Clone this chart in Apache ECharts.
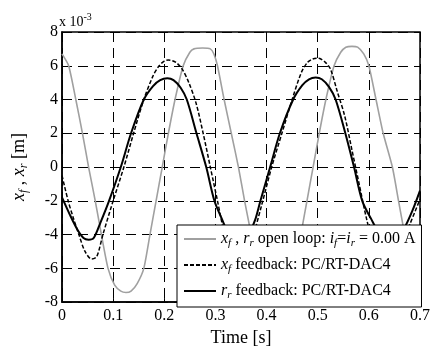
<!DOCTYPE html>
<html>
<head>
<meta charset="utf-8">
<script src="https://cdn.jsdelivr.net/npm/echarts@6/dist/echarts.min.js"></script>
<style>
  html, body { margin: 0; padding: 0; background: #fff; }
  #main { width: 433px; height: 352px; }
</style>
</head>
<body>
<div id="main"></div>
<script>
// values in units of 1e-3 m
var openT = [0, 0.013, 0.027, 0.04, 0.052, 0.065, 0.077, 0.09, 0.103, 0.115, 0.125, 0.135, 0.147, 0.16, 0.172, 0.184, 0.196, 0.208, 0.221, 0.237, 0.25, 0.258, 0.275, 0.29, 0.297, 0.304, 0.317, 0.331, 0.345, 0.357, 0.37, 0.383, 0.397, 0.41, 0.42, 0.43, 0.442, 0.455, 0.467, 0.479, 0.491, 0.503, 0.516, 0.532, 0.545, 0.555, 0.567, 0.578, 0.59, 0.6, 0.614, 0.628, 0.646, 0.658, 0.67, 0.682, 0.694, 0.7];
var openV = [6.7, 6.0, 4.0, 2.0, 0, -2, -4, -6, -7.0, -7.35, -7.43, -7.35, -6.9, -6, -4, -2, 0, 2, 4, 6, 6.8, 7.0, 7.05, 7.0, 6.7, 6, 4, 2, 0, -2, -4, -6, -7.0, -7.4, -7.45, -7.35, -6.9, -6, -4, -2, 0, 2, 4, 6, 6.8, 7.1, 7.15, 7.1, 6.7, 6, 4, 2, 0, -2, -4, -6, -7.0, -7.25];

var xfT = [0, 0.012, 0.022, 0.033, 0.045, 0.058, 0.068, 0.08, 0.1, 0.121, 0.14, 0.16, 0.178, 0.19, 0.2, 0.208, 0.216, 0.225, 0.235, 0.248, 0.262, 0.276, 0.29, 0.304, 0.318, 0.33, 0.34, 0.35, 0.36, 0.37, 0.39, 0.41, 0.43, 0.45, 0.468, 0.48, 0.49, 0.498, 0.506, 0.515, 0.525, 0.538, 0.553, 0.567, 0.581, 0.595, 0.608, 0.62, 0.63, 0.64, 0.65, 0.66, 0.68, 0.7];
var xfV = [-0.5, -2, -3, -4, -5, -5.45, -5.3, -4, -2, 0, 2, 4, 5.4, 6.0, 6.28, 6.34, 6.3, 6.15, 5.8, 5, 3.8, 2, 0, -2, -4, -5, -5.35, -5.45, -5.3, -4.5, -2.3, 0, 2, 4, 5.6, 6.2, 6.4, 6.45, 6.4, 6.2, 5.8, 4.5, 3, 1, -1, -3, -4.5, -5.2, -5.4, -5.45, -5.3, -4.8, -3.4, -1.9];

var rrT = [0, 0.015, 0.03, 0.042, 0.052, 0.062, 0.075, 0.092, 0.115, 0.135, 0.16, 0.178, 0.192, 0.206, 0.218, 0.232, 0.244, 0.263, 0.282, 0.298, 0.313, 0.325, 0.337, 0.347, 0.358, 0.368, 0.378, 0.388, 0.407, 0.426, 0.452, 0.47, 0.483, 0.496, 0.508, 0.522, 0.535, 0.554, 0.571, 0.587, 0.605, 0.62, 0.635, 0.645, 0.655, 0.668, 0.685, 0.7];
var rrV = [-1.8, -2.8, -3.7, -4.2, -4.3, -4.2, -3.3, -2, 0, 2, 4, 4.8, 5.15, 5.26, 5.15, 4.7, 4, 2, 0, -2, -3.1, -3.9, -4.25, -4.3, -4.2, -3.8, -3.1, -2, 0, 2, 4, 4.85, 5.2, 5.3, 5.2, 4.75, 4, 2, 0, -2, -3.1, -3.9, -4.25, -4.3, -4.2, -3.7, -2.6, -1.4];

function pairs(t, v) {
  return t.map(function (x, i) { return [x, v[i]]; });
}

var serif = 'Liberation Serif';
var sub = { fontFamily: serif, fontStyle: 'italic', fontSize: 11, lineHeight: 11, verticalAlign: 'bottom', color: '#000' };
var it = { fontFamily: serif, fontStyle: 'italic', fontSize: 16, lineHeight: 20, color: '#000' };
var nm = { fontFamily: serif, fontSize: 16, lineHeight: 20, color: '#000' };

var legendText = {
  open: '{i|x}{s|f}{n| , }{i|r}{s|r}{n| open loop: }{i|i}{s|f}{n|=}{i|i}{s|r}{n| = 0.00 A}',
  xf: '{i|x}{s|f}{n| feedback: PC/RT-DAC4}',
  rr: '{i|r}{s|r}{n| feedback: PC/RT-DAC4}'
};

var gridLine = { show: true, lineStyle: { color: '#000', width: 1, type: [10, 6] } };

var chart = echarts.init(document.getElementById('main'));
chart.setOption({
  backgroundColor: '#fff',
  animation: false,
  title: {
    text: 'x 10{sup|-3}',
    left: 59,
    top: 12,
    padding: 0,
    textStyle: {
      fontFamily: serif, fontSize: 14, fontWeight: 'normal', color: '#000', lineHeight: 20,
      rich: {
        sup: { fontFamily: serif, fontSize: 10, lineHeight: 10, verticalAlign: 'top', color: '#000' }
      }
    }
  },
  grid: {
    left: 60, right: 10, top: 32, bottom: 40,
    show: true, borderColor: '#000', borderWidth: 1.5, backgroundColor: 'transparent'
  },
  legend: {
    orient: 'vertical',
    left: 177,
    top: 225,
    padding: [4, 6, 6, 6],
    itemGap: 6,
    itemWidth: 32,
    itemHeight: 12,
    backgroundColor: '#fff',
    borderColor: '#000',
    borderWidth: 1,
    borderRadius: 0,
    itemStyle: { opacity: 0 },
    data: ['open', 'xf', 'rr'],
    formatter: function (name) { return legendText[name]; },
    textStyle: {
      fontFamily: serif, fontSize: 16, color: '#000', lineHeight: 20,
      rich: { i: it, s: sub, n: nm }
    }
  },
  xAxis: {
    type: 'value',
    min: 0, max: 0.7, interval: 0.1,
    name: 'Time [s]',
    nameLocation: 'middle',
    nameGap: 26,
    nameTextStyle: { fontFamily: serif, fontSize: 18, color: '#000' },
    axisLine: { show: true, onZero: false, lineStyle: { color: '#000', width: 1.5 } },
    axisTick: { show: true, inside: true, length: 4, lineStyle: { color: '#000' } },
    axisLabel: {
      fontFamily: serif, fontSize: 16, color: '#000', margin: 6,
      formatter: function (v) { return String(+v.toFixed(1)); }
    },
    splitLine: gridLine
  },
  yAxis: {
    type: 'value',
    min: -8, max: 8, interval: 2,
    name: '{i|x}{s|f}{n| , }{i|x}{s|r}{n| [m]}',
    nameLocation: 'middle',
    nameGap: 32,
    nameTextStyle: {
      fontFamily: serif, fontSize: 18, color: '#000', lineHeight: 22,
      rich: {
        i: { fontFamily: serif, fontStyle: 'italic', fontSize: 18, lineHeight: 22, color: '#000' },
        s: { fontFamily: serif, fontStyle: 'italic', fontSize: 12, lineHeight: 12, verticalAlign: 'bottom', color: '#000' },
        n: { fontFamily: serif, fontSize: 18, lineHeight: 22, color: '#000' }
      }
    },
    axisLine: { show: true, onZero: false, lineStyle: { color: '#000', width: 1.5 } },
    axisTick: { show: true, inside: true, length: 4, lineStyle: { color: '#000' } },
    axisLabel: { fontFamily: serif, fontSize: 16, color: '#000', margin: 4 },
    splitLine: gridLine
  },
  series: [
    {
      name: 'open', type: 'line', data: pairs(openT, openV),
      showSymbol: false, symbol: 'none', smooth: 0.2,
      lineStyle: { color: '#a0a0a0', width: 1.6 },
      itemStyle: { color: '#a0a0a0' }
    },
    {
      name: 'xf', type: 'line', data: pairs(xfT, xfV),
      showSymbol: false, symbol: 'none', smooth: 0.3,
      lineStyle: { color: '#000', width: 1.5, type: [4, 2] },
      itemStyle: { color: '#000' }
    },
    {
      name: 'rr', type: 'line', data: pairs(rrT, rrV),
      showSymbol: false, symbol: 'none', smooth: 0.3,
      lineStyle: { color: '#000', width: 2 },
      itemStyle: { color: '#000' }
    }
  ]
});
</script>
</body>
</html>
